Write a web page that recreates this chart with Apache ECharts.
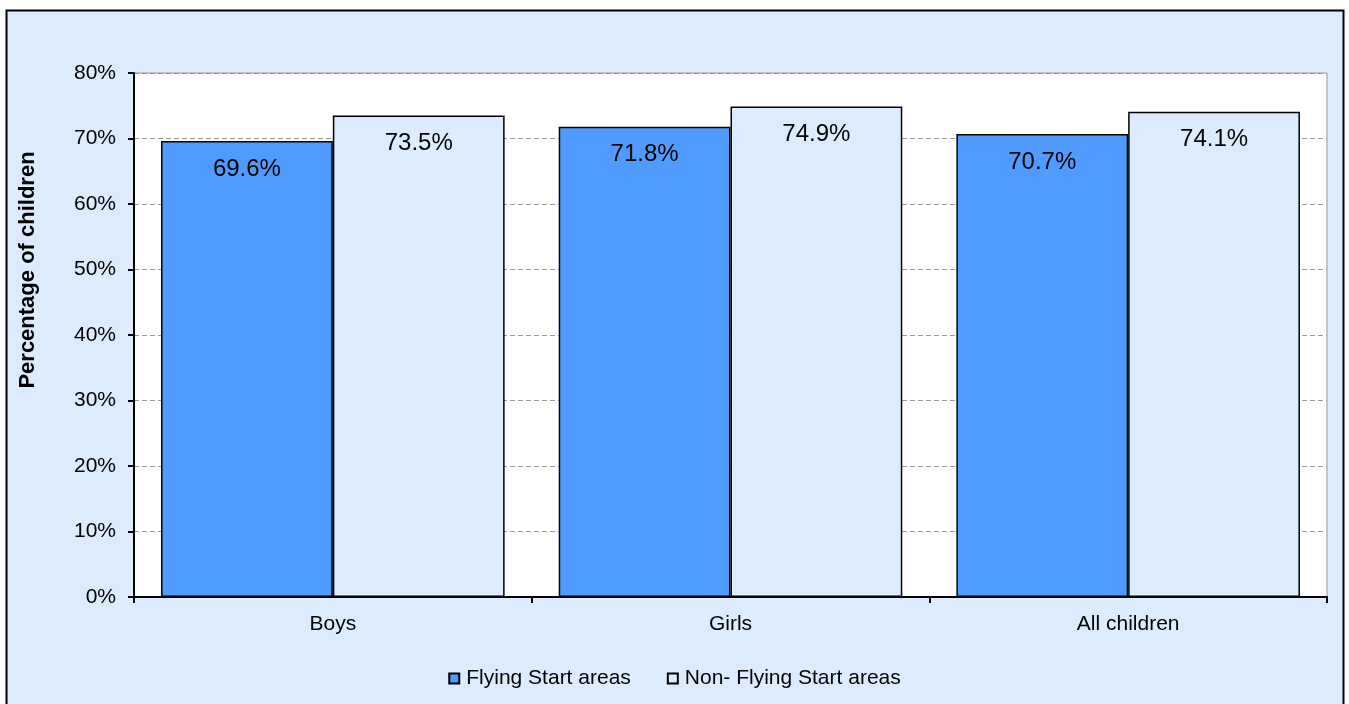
<!DOCTYPE html>
<html><head><meta charset="utf-8">
<script src="https://cdn.jsdelivr.net/npm/echarts@6/dist/echarts.min.js"></script>
<style>html,body{margin:0;padding:0;background:#fff}#c{width:1349px;height:704px}</style>
</head><body><div id="c"></div>
<script>
const categories = ['Boys', 'Girls', 'All children'];
const flyingStart = [69.6, 71.8, 70.7];
const nonFlyingStart = [73.5, 74.9, 74.1];
const seriesNames = ['Flying Start areas', 'Non- Flying Start areas'];
const yTicks = [0, 10, 20, 30, 40, 50, 60, 70, 80];

const chart = echarts.init(document.getElementById('c'), null, {renderer: 'canvas'});
const font = 'Liberation Sans, Arial, sans-serif';
const labelCfg = {
  show: true, position: 'insideTop', distance: 16,
  formatter: p => p.value.toFixed(1) + '%',
  color: '#000', fontSize: 24, fontFamily: font
};
chart.setOption({
  backgroundColor: '#fff',
  animation: false,
  textStyle: {fontFamily: font},
  graphic: [{
    type: 'rect', z: -10, silent: true,
    shape: {x: 6.5, y: 10.5, width: 1337, height: 700},
    style: {fill: '#DDEBFF', stroke: '#000', lineWidth: 2}
  }],
  grid: {left: 134, right: 22, top: 73, bottom: 107, show: true,
         backgroundColor: '#fff', borderColor: '#999', borderWidth: 1},
  legend: {
    bottom: 10, left: 'center', itemWidth: 10, itemHeight: 10, itemGap: 36,
    textStyle: {fontSize: 21, color: '#000', fontFamily: font, padding: [0, 0, 0, 2]},
    data: seriesNames.map(n => ({name: n, icon: 'rect'}))
  },
  xAxis: {
    type: 'category', data: categories,
    axisLine: {lineStyle: {color: '#000', width: 2}},
    axisTick: {show: true, length: 6, lineStyle: {color: '#000', width: 2}},
    axisLabel: {fontSize: 21, color: '#000', margin: 17, fontFamily: font}
  },
  yAxis: {
    type: 'value', min: 0, max: 80, interval: 10,
    name: 'Percentage of children', nameLocation: 'middle', nameGap: 95,
    nameTextStyle: {fontSize: 22, fontWeight: 'bold', color: '#000', fontFamily: font,
      padding: [0, 0, 0, 130]},
    axisLine: {show: true, lineStyle: {color: '#000', width: 2}},
    axisTick: {show: true, length: 6, lineStyle: {color: '#000', width: 2}},
    axisLabel: {fontSize: 21, color: '#000', margin: 18, fontFamily: font,
      formatter: v => yTicks.includes(v) ? v + '%' : ''},
    splitLine: {show: true, lineStyle: {color: '#999', type: [5, 3], width: 1}}
  },
  series: [
    {name: seriesNames[0], type: 'bar', data: flyingStart, barGap: '0%', barCategoryGap: '13.6%',
     itemStyle: {color: '#4F9BFF', borderColor: '#000', borderWidth: 1.5}, label: labelCfg},
    {name: seriesNames[1], type: 'bar', data: nonFlyingStart, barGap: '0%', barCategoryGap: '13.6%',
     itemStyle: {color: '#DDEBFF', borderColor: '#000', borderWidth: 1.5}, label: labelCfg}
  ]
});
</script></body></html>
